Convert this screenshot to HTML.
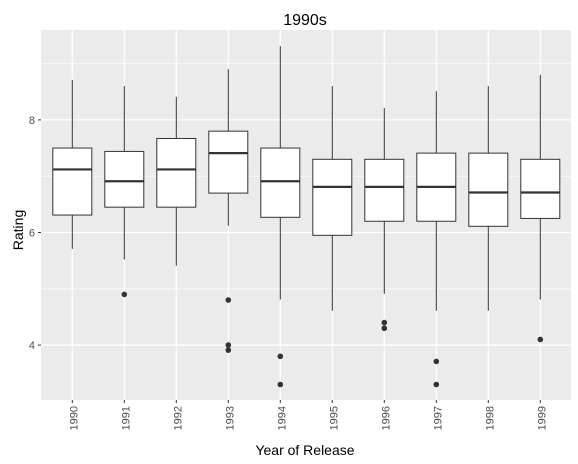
<!DOCTYPE html>
<html><head><meta charset="utf-8"><style>
body{margin:0;background:#fff;}
svg{display:block;font-family:"Liberation Sans",Arial,sans-serif;}
</style></head><body>
<svg id="chart" width="578" height="464">
<rect x="41" y="30" width="530" height="370" fill="#ebebeb"/>
<g id="grid"></g><g id="boxes"></g><g id="axes"></g>
<text x="305" y="25" text-anchor="middle" font-size="16" fill="#000">1990s</text>
<text x="305" y="455" text-anchor="middle" font-size="14" fill="#000">Year of Release</text>
<text transform="translate(23,230) rotate(-90)" text-anchor="middle" font-size="14" fill="#000">Rating</text>
</svg>
<script>
const years=["1990","1991","1992","1993","1994","1995","1996","1997","1998","1999"];
const whiskerHigh=[8.71,8.60,8.41,8.90,9.31,8.60,8.21,8.51,8.60,8.80];
const q3=[7.50,7.44,7.67,7.80,7.50,7.30,7.30,7.41,7.41,7.30];
const medians=[7.12,6.91,7.12,7.41,6.91,6.81,6.81,6.81,6.71,6.71];
const q1=[6.31,6.45,6.45,6.70,6.27,5.95,6.20,6.20,6.11,6.25];
const whiskerLow=[5.71,5.52,5.41,6.12,4.81,4.61,4.91,4.61,4.61,4.81];
const outliers=[[],[4.90],[],[4.80,4.00,3.91],[3.80,3.30],[],[4.40,4.30],[3.71,3.30],[],[4.10]];
const yTicks=[4,6,8];
const yMinor=[5,7,9];
const NS="http://www.w3.org/2000/svg";
function y(v){return 232.5-(v-6)*56.3;}
function x(i){return 72.3+i*52;}
function mk(tag,attrs,parent){const e=document.createElementNS(NS,tag);for(const k in attrs)e.setAttribute(k,attrs[k]);document.getElementById(parent).appendChild(e);return e;}
yMinor.forEach(v=>{const l=mk('line',{x1:41,x2:571,y1:y(v),y2:y(v),stroke:'#fff','stroke-width':0.6},'grid');

});
yTicks.forEach(v=>{const l=mk('line',{x1:41,x2:571,y1:y(v),y2:y(v),stroke:'#fff','stroke-width':1.2},'grid');


const t=mk('line',{x1:38,x2:41,y1:y(v),y2:y(v),stroke:'#333','stroke-width':1},'axes');


const tx=mk('text',{x:35,y:y(v)+4,'text-anchor':'end','font-size':11,fill:'#4d4d4d'},'axes');tx.textContent=v;

});
years.forEach((yr,i)=>{const cx=x(i);
const g=mk('line',{x1:cx,x2:cx,y1:30,y2:400,stroke:'#fff','stroke-width':1.2},'grid');


const t=mk('line',{x1:cx,x2:cx,y1:400,y2:403,stroke:'#333','stroke-width':1},'axes');


const tx=mk('text',{transform:`translate(${cx+5},406) rotate(-90)`,'text-anchor':'end','font-size':11,fill:'#4d4d4d'},'axes');tx.textContent=yr;


const w1=mk('line',{x1:cx,x2:cx,y1:y(whiskerHigh[i]),y2:y(q3[i]),stroke:'#333','stroke-width':1},'boxes');


const w2=mk('line',{x1:cx,x2:cx,y1:y(q1[i]),y2:y(whiskerLow[i]),stroke:'#333','stroke-width':1},'boxes');


const b=mk('rect',{x:cx-19.5,y:y(q3[i]),width:39,height:y(q1[i])-y(q3[i]),fill:'#fff',stroke:'#333','stroke-width':1},'boxes');


const m=mk('line',{x1:cx-19.5,x2:cx+19.5,y1:y(medians[i]),y2:y(medians[i]),stroke:'#333','stroke-width':2.2},'boxes');


outliers[i].forEach(o=>{const c=mk('circle',{cx:cx,cy:y(o),r:2.8,fill:'#333'},'boxes');

});
});
</script>
</body></html>
